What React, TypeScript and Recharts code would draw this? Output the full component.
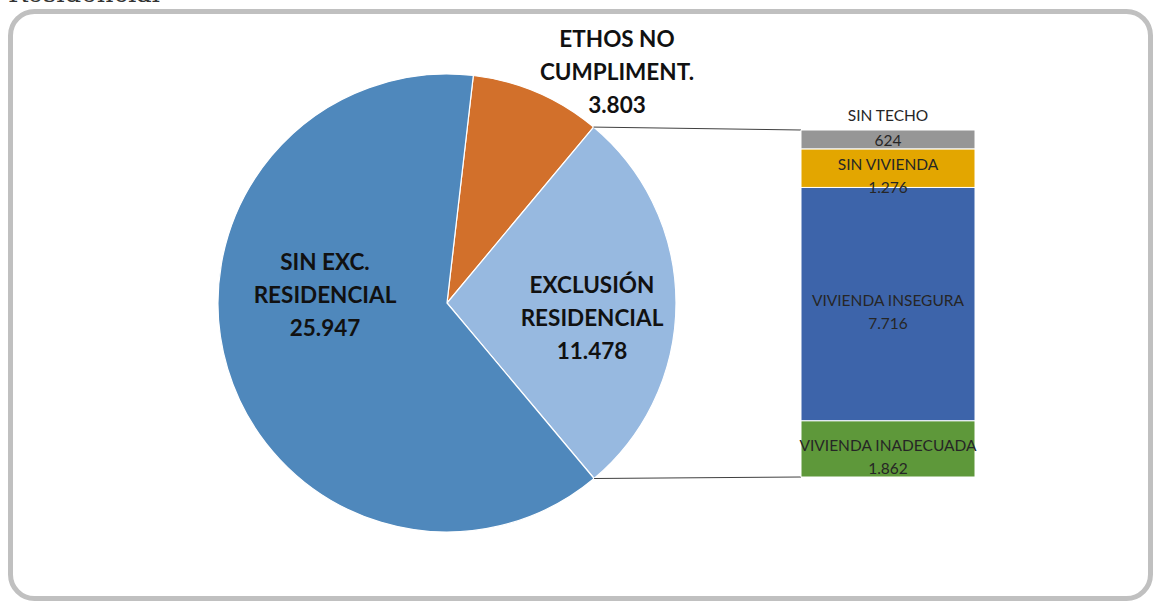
import React from "react";
import { PieChart, Pie, Cell, BarChart, Bar, XAxis, YAxis, LabelList } from "recharts";

// pie: ETHOS no cumplimiento / exclusión residencial / sin exclusión
const pieNames = ["ETHOS NO CUMPLIMENT.", "EXCLUSIÓN RESIDENCIAL", "SIN EXC. RESIDENCIAL"];
const pieLines = [
  ["ETHOS NO", "CUMPLIMENT."],
  ["EXCLUSIÓN", "RESIDENCIAL"],
  ["SIN EXC.", "RESIDENCIAL"],
];
const pieValues = [3803, 11478, 25947];
const pieColors = ["#D2702B", "#97B9E0", "#4F88BC"];

// desglose de exclusión residencial (de abajo a arriba)
const barNames = ["VIVIENDA INADECUADA", "VIVIENDA INSEGURA", "SIN VIVIENDA", "SIN TECHO"];
const barKeys = ["inadecuada", "insegura", "sinVivienda", "sinTecho"];
const barValues = [1862, 7716, 1276, 624];
const barColors = ["#5E983A", "#3D64AA", "#E3A600", "#969696"];

const fmt = (n: number) => String(n).replace(/\B(?=(\d{3})+(?!\d))/g, ".");

const pieData = pieNames.map((name, i) => ({ name, value: pieValues[i] }));
const barRow: any = { name: "exclusion" };
barKeys.forEach((k, i) => (barRow[k] = barValues[i]));
const barData = [barRow];
const barTotal = barValues.reduce((a, b) => a + b, 0);
const pieTotal = pieValues.reduce((a, b) => a + b, 0);

const FONT = "Lato, 'Open Sans', sans-serif";

// layout
const CX = 447;
const CY = 303;
const R = 229;
const START = 83.4;
const BAR = { left: 801, top: 130, width: 174, height: 347 };
const PAD = 30; // room for labels that spill over the bar

// label centres relative to pie centre
const labelOffsets = [
  { dx: 170, dy: -232 },
  { dx: 145, dy: 14 },
  { dx: -122, dy: -9 },
];

const renderPieLabel = (props: any) => {
  const { index, value } = props;
  const off = labelOffsets[index];
  const x = CX + off.dx;
  const y = CY + off.dy;
  const lines = [...pieLines[index], fmt(value)];
  return (
    <text
      key={"lbl" + index}
      x={x}
      y={y}
      textAnchor="middle"
      fontFamily={FONT}
      fontWeight={700}
      fontSize={22.5}
      fill="#111"
    >
      {lines.map((l, i) => (
        <tspan key={i} x={x} y={y + (i - 1) * 33} dominantBaseline="central">
          {l}
        </tspan>
      ))}
    </text>
  );
};

const makeBarLabel = (idx: number) => (props: any) => {
  const { x, y, width, height, value } = props;
  const mx = x + width / 2;
  const my = y + height / 2;
  const isTop = idx === barNames.length - 1;
  const nameY = isTop ? y - 15 : my - 4;
  const valY = isTop ? my + 1 : my + 19;
  return (
    <g>
      <text x={mx} y={nameY} textAnchor="middle" dominantBaseline="central" fontFamily={FONT} fontSize={15.5} fill="#262626">
        {barNames[idx]}
      </text>
      <text x={mx} y={valY} textAnchor="middle" dominantBaseline="central" fontFamily={FONT} fontSize={15.5} fill="#262626">
        {fmt(value)}
      </text>
    </g>
  );
};

const polar = (deg: number) => {
  const a = (deg * Math.PI) / 180;
  return { x: CX + R * Math.cos(a), y: CY - R * Math.sin(a) };
};

export default function App() {
  const end = START - 360;
  const exclStart = START - (360 * pieValues[0]) / pieTotal;
  const exclEnd = exclStart - (360 * pieValues[1]) / pieTotal;
  const p1 = polar(exclStart);
  const p2 = polar(exclEnd);

  return (
    <div style={{ position: "absolute", left: 0, top: 0, width: 1154, height: 601, background: "#fff", overflow: "hidden" }}>
      <svg width={1154} height={601} style={{ position: "absolute", left: 0, top: 0 }}>
        <text x={8} y={2} fontFamily="'DejaVu Serif', serif" fontSize={26} fill="#333">
          Residencial
        </text>
        <rect x={10.5} y={11.5} width={1140} height={587} rx={24} ry={24} fill="#fff" stroke="#C0C0C0" strokeWidth={5} />
      </svg>

      <div style={{ position: "absolute", left: 0, top: 0 }}>
        <PieChart width={1154} height={601} margin={{ top: 0, right: 0, bottom: 0, left: 0 }}>
          <Pie
            data={pieData}
            dataKey="value"
            nameKey="name"
            cx={CX}
            cy={CY}
            outerRadius={R}
            startAngle={START}
            endAngle={end}
            stroke="#fff"
            strokeWidth={1.2}
            label={renderPieLabel}
            labelLine={false}
            isAnimationActive={false}
          >
            {pieData.map((d, i) => (
              <Cell key={d.name} fill={pieColors[i]} />
            ))}
          </Pie>
        </PieChart>
      </div>

      <svg width={1154} height={601} style={{ position: "absolute", left: 0, top: 0, pointerEvents: "none" }}>
        <line x1={p1.x} y1={p1.y} x2={BAR.left} y2={BAR.top} stroke="#404040" strokeWidth={1} />
        <line x1={p2.x} y1={p2.y} x2={BAR.left} y2={BAR.top + BAR.height} stroke="#404040" strokeWidth={1} />
      </svg>

      <div style={{ position: "absolute", left: BAR.left - PAD, top: BAR.top - PAD }}>
        <BarChart
          width={BAR.width + PAD * 2}
          height={BAR.height + PAD}
          data={barData}
          margin={{ top: PAD, right: PAD, bottom: 0, left: PAD }}
          barCategoryGap={0}
        >
          <XAxis dataKey="name" hide />
          <YAxis hide domain={[0, barTotal]} />
          {barKeys.map((k, i) => (
            <Bar key={k} dataKey={k} stackId="a" fill={barColors[i]} stroke="#fff" strokeWidth={1} isAnimationActive={false}>
              <LabelList dataKey={k} content={makeBarLabel(i)} />
            </Bar>
          ))}
        </BarChart>
      </div>
    </div>
  );
}
